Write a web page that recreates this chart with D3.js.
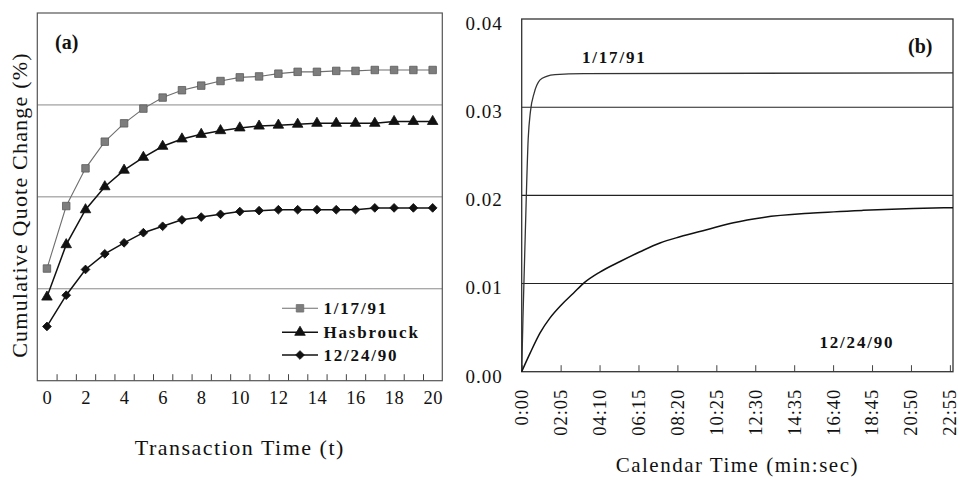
<!DOCTYPE html>
<html lang="en">
<head>
<meta charset="UTF-8">
<title>Cumulative quote change</title>
<style>
  body { margin: 0; background: #fff; }
  svg text { font-family: "Liberation Serif", "Times New Roman", serif; fill: #111; }
</style>
</head>
<body>
<div id="chart"></div>
<script src="https://d3js.org/d3.v7.min.js"></script>
<script>
// ---- data ----
// panel (a): transaction time
const transTime = [0, 1, 2, 3, 4, 5, 6, 7, 8, 9, 10, 11, 12, 13, 14, 15, 16, 17, 18, 19, 20];
const transLabels = [0, 2, 4, 6, 8, 10, 12, 14, 16, 18, 20];
const jan91 = [0.0122, 0.0190, 0.0231, 0.0260, 0.0280, 0.0296, 0.0308, 0.0316, 0.0321, 0.0326, 0.0330,
               0.0331, 0.0334, 0.0336, 0.0336, 0.0337, 0.0337, 0.0338, 0.0338, 0.0338, 0.0338];
const hasbrouck = [0.0091, 0.0148, 0.0186, 0.0211, 0.0229, 0.0243, 0.0255, 0.0263, 0.0268, 0.0272, 0.0275,
                   0.0277, 0.0278, 0.0279, 0.0280, 0.0280, 0.0280, 0.0280, 0.0282, 0.0282, 0.0282];
const dec90 = [0.0059, 0.0093, 0.0121, 0.0138, 0.0150, 0.0161, 0.0168, 0.0175, 0.0178, 0.0181, 0.0184,
               0.0185, 0.0186, 0.0186, 0.0186, 0.0186, 0.0186, 0.0188, 0.0188, 0.0188, 0.0188];
const legendNames = ["1/17/91", "Hasbrouck", "12/24/90"];

// panel (b): calendar time in seconds
const calTicks = [0, 125, 250, 375, 500, 625, 750, 875, 1000, 1125, 1250, 1375];
const calTickLabels = ["0:00", "02:05", "04:10", "06:15", "08:20", "10:25", "12:30", "14:35", "16:40", "18:45", "20:50", "22:55"];
const calYTicks = [0, 0.01, 0.02, 0.03, 0.04];
const janSec = [0, 4, 11, 21, 28, 40, 59, 80, 107, 200, 1385];
const janCal = [0, 0.0060, 0.0150, 0.0265, 0.0295, 0.0316, 0.0331, 0.0335, 0.0337, 0.0338, 0.0339];
const decSec = [0, 27, 59, 91, 128, 166, 201, 251, 316, 380, 444, 508, 594, 680, 776, 936, 1097, 1257, 1385];
const decCal = [0, 0.0021, 0.0044, 0.0061, 0.0076, 0.0089, 0.0101, 0.0113, 0.0125, 0.0136, 0.0146,
                0.0153, 0.0161, 0.0169, 0.0175, 0.0180, 0.0183, 0.0185, 0.0186];

const W = 959, H = 477;
const svg = d3.select("#chart").append("svg").attr("width", W).attr("height", H);

// ================= panel (a) =================
const A = {left: 37.3, right: 442.3, top: 13, bottom: 380.7};
const xa = d3.scaleLinear().domain([-0.5, 20.5]).range([A.left, A.right]);
const ya = d3.scaleLinear().domain([0, 0.04]).range([A.bottom, A.top]);

const ga = svg.append("g");

// gridlines
ga.selectAll("line.grid").data([0.01, 0.02, 0.03]).join("line")
    .attr("x1", A.left).attr("x2", A.right)
    .attr("y1", d => ya(d)).attr("y2", d => ya(d))
    .attr("stroke", "#8a8a8a").attr("stroke-width", 1);

// category boundary ticks (inside)
const aTicks = ga.append("g")
    .attr("transform", "translate(0," + A.bottom + ")")
    .call(d3.axisBottom(xa).tickValues(transTime.slice(0, 20).map(d => d + 0.5)).tickSize(-6.5).tickFormat(""));
aTicks.select(".domain").remove();
aTicks.selectAll("line").attr("stroke", "#444");

// labels
const aLab = ga.append("g")
    .attr("transform", "translate(0," + A.bottom + ")")
    .call(d3.axisBottom(xa).tickValues(transLabels).tickSize(0).tickPadding(10));
aLab.select(".domain").remove();
aLab.selectAll("text").attr("font-size", 18.5).style("letter-spacing", "0.5px")
    .style("font-family", "'Liberation Serif', serif").attr("fill", "#111");

// frame
ga.append("rect").attr("x", A.left).attr("y", A.top)
    .attr("width", A.right - A.left).attr("height", A.bottom - A.top)
    .attr("fill", "none").attr("stroke", "#555").attr("stroke-width", 1.2);

const lineA = d3.line().x((d, i) => xa(transTime[i])).y(d => ya(d));

// series lines
ga.append("path").datum(jan91).attr("d", lineA).attr("fill", "none").attr("stroke", "#6e6e6e").attr("stroke-width", 1.1);
ga.append("path").datum(hasbrouck).attr("d", lineA).attr("fill", "none").attr("stroke", "#111").attr("stroke-width", 1.5);
ga.append("path").datum(dec90).attr("d", lineA).attr("fill", "none").attr("stroke", "#111").attr("stroke-width", 1.5);

const symSquare = d3.symbol().type(d3.symbolSquare).size(56);
const symTri = d3.symbol().type(d3.symbolTriangle).size(48);
const symDiamond = d3.symbol().type(d3.symbolSquare).size(38);
const rot = [0, 0, 45];

function markers(data, sym, fill, stroke, r) {
  ga.append("g").selectAll("path").data(data).join("path")
    .attr("transform", (d, i) => "translate(" + xa(transTime[i]) + "," + ya(d) + ") rotate(" + r + ")")
    .attr("d", sym).attr("fill", fill).attr("stroke", stroke).attr("stroke-width", 0.8);
}
markers(jan91, symSquare, "#7d7d7d", "#5a5a5a", rot[0]);
markers(hasbrouck, symTri, "#111", "#111", rot[1]);
markers(dec90, symDiamond, "#111", "#111", rot[2]);

// panel label
ga.append("text").attr("x", 55).attr("y", 49).attr("font-size", 20).attr("font-weight", "bold").text("(a)");

// legend
const legend = ga.append("g");
const legY = [308.3, 332.3, 355];
const legSym = [symSquare, symTri, symDiamond];
const legStroke = ["#6e6e6e", "#111", "#111"];
const legFill = ["#7d7d7d", "#111", "#111"];
legendNames.forEach((name, i) => {
  legend.append("line").attr("x1", 282).attr("x2", 318).attr("y1", legY[i]).attr("y2", legY[i])
    .attr("stroke", legStroke[i]).attr("stroke-width", i === 0 ? 1.1 : 1.5);
  legend.append("path").attr("transform", "translate(300," + legY[i] + ") rotate(" + rot[i] + ")")
    .attr("d", legSym[i]).attr("fill", legFill[i]).attr("stroke", legStroke[i]).attr("stroke-width", 0.8);
  legend.append("text").attr("x", 323.5).attr("y", legY[i]).attr("dy", "0.35em")
    .attr("font-size", 17).attr("font-weight", "bold").style("letter-spacing", "1.8px").text(name);
});

// axis titles
svg.append("text").attr("transform", "translate(27,205) rotate(-90)")
    .attr("text-anchor", "middle").attr("font-size", 22).style("letter-spacing", "1.2px")
    .text("Cumulative Quote Change (%)");
svg.append("text").attr("x", (A.left + A.right) / 2).attr("y", 455)
    .attr("text-anchor", "middle").attr("font-size", 22).style("letter-spacing", "1.5px")
    .text("Transaction Time (t)");

// ================= panel (b) =================
const B = {left: 521.7, right: 953, top: 19, bottom: 371.7};
const xb = d3.scaleLinear().domain([0, 1385]).range([B.left, B.right]);
const yb = d3.scaleLinear().domain([0, 0.04]).range([B.bottom, B.top]);
const gb = svg.append("g");

gb.selectAll("line.grid").data([0.01, 0.02, 0.03]).join("line")
    .attr("x1", B.left).attr("x2", B.right)
    .attr("y1", d => yb(d)).attr("y2", d => yb(d))
    .attr("stroke", "#222").attr("stroke-width", 1.1);

// y axis labels
const bY = gb.append("g").attr("transform", "translate(" + B.left + ",0)")
    .call(d3.axisLeft(yb).tickValues(calYTicks).tickSize(0).tickPadding(19).tickFormat(d3.format(".2f")));
bY.select(".domain").remove();
bY.selectAll("text").attr("font-size", 19).attr("dy", "0.55em").style("letter-spacing", "1px")
    .style("font-family", "'Liberation Serif', serif").attr("fill", "#111");

// x ticks (inside) and rotated labels
const bX = gb.append("g").attr("transform", "translate(0," + B.bottom + ")")
    .call(d3.axisBottom(xb).tickValues(calTicks).tickSize(-6.5).tickFormat((d, i) => calTickLabels[i]));
bX.select(".domain").remove();
bX.selectAll("line").attr("stroke", "#444");
bX.selectAll("text")
    .attr("font-size", 18.5).style("letter-spacing", "1px")
    .style("font-family", "'Liberation Serif', serif").attr("fill", "#111")
    .attr("text-anchor", "end").attr("y", 0).attr("dy", "0.32em")
    .attr("transform", "translate(0,17) rotate(-90)");

// frame
gb.append("rect").attr("x", B.left).attr("y", B.top)
    .attr("width", B.right - B.left).attr("height", B.bottom - B.top)
    .attr("fill", "none").attr("stroke", "#333").attr("stroke-width", 1.3);

const lineB = d3.line().curve(d3.curveMonotoneX);
gb.append("path").attr("d", lineB(janSec.map((t, i) => [xb(t), yb(janCal[i])])))
    .attr("fill", "none").attr("stroke", "#333").attr("stroke-width", 1.3);
gb.append("path").attr("d", lineB(decSec.map((t, i) => [xb(t), yb(decCal[i])])))
    .attr("fill", "none").attr("stroke", "#111").attr("stroke-width", 1.5);

// labels
gb.append("text").attr("x", 908).attr("y", 53).attr("font-size", 20).attr("font-weight", "bold").text("(b)");
gb.append("text").attr("x", 582).attr("y", 57).attr("dy", "0.35em").attr("font-size", 17)
    .attr("font-weight", "bold").style("letter-spacing", "1.8px").text(legendNames[0]);
gb.append("text").attr("x", 819.5).attr("y", 342.3).attr("dy", "0.35em").attr("font-size", 17)
    .attr("font-weight", "bold").style("letter-spacing", "1.8px").text(legendNames[2]);

svg.append("text").attr("x", (B.left + B.right) / 2).attr("y", 472)
    .attr("text-anchor", "middle").attr("font-size", 21).style("letter-spacing", "1.5px")
    .text("Calendar Time (min:sec)");
</script>
</body>
</html>
